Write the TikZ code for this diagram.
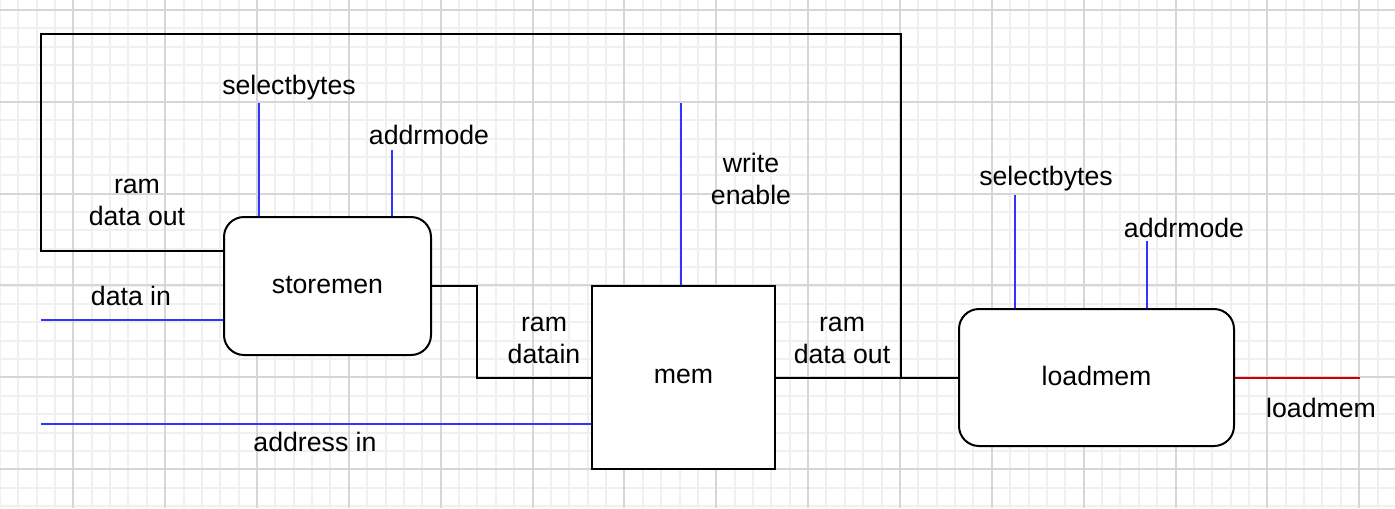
\documentclass[tikz,border=0pt]{standalone}
\usepackage{fontspec}
\setmainfont{Liberation Sans}
\definecolor{wireblue}{RGB}{51,51,255}
\definecolor{wirered}{RGB}{204,0,0}
\begin{document}
\begin{tikzpicture}[x=0.75pt,y=-0.75pt,
  minorgrid/.style={draw=black!6,line width=1.5pt},
  majorgrid/.style={draw=black!16,line width=1.5pt},
  wire/.style={draw=black,line width=1.5pt},
  bwire/.style={draw=wireblue,line width=1.5pt},
  rwire/.style={draw=wirered,line width=1.5pt},
  blockr/.style={draw=black,line width=1.5pt,fill=white,rounded corners=15pt,font=\fontsize{20}{24}\selectfont},
  blocks/.style={draw=black,line width=1.5pt,fill=white,font=\fontsize{20}{24}\selectfont},
  lbl/.style={font=\fontsize{20}{24}\selectfont,align=center,inner sep=0pt}]
\useasboundingbox (0,0) rectangle (1395,508);
\fill[white] (0,0) rectangle (1395,508);
% grid
\foreach \i in {-4,...,72} {\draw[minorgrid] ({73.3+\i*18.37},0) -- ({73.3+\i*18.37},508);}
\foreach \i in {-1,...,27} {\draw[minorgrid] (0,{10+\i*18.37}) -- (1395,{10+\i*18.37});}
\foreach \i in {-1,...,14} {\draw[majorgrid] ({73.3+\i*91.85},0) -- ({73.3+\i*91.85},508);}
\foreach \i in {0,...,5} {\draw[majorgrid] (0,{10+\i*91.75}) -- (1395,{10+\i*91.75});}
% blocks
\node[blockr,minimum width=155.25pt,minimum height=103.5pt] (storemen) at (327.5,286) {\raisebox{1.5pt}{storemen}};
\node[blocks,minimum width=137.25pt,minimum height=137.25pt] (mem) at (683.5,377.5) {\raisebox{1.5pt}{mem}};
\node[blockr,minimum width=206.25pt,minimum height=102.75pt] (loadmem) at (1096.5,377.5) {\raisebox{2.5pt}{loadmem}};
% coordinates
\coordinate (loopL) at (41,34);
\coordinate (loopR) at (901,34);
\coordinate (junc) at (901,377.5);
\coordinate (bendA) at (477,286);
\coordinate (datain) at (41,320);
\coordinate (addrin) at (41,424);
\coordinate (sb1) at (259,103);
\coordinate (am1) at (392,150);
\coordinate (we) at (681,103);
\coordinate (sb2) at (1015,195);
\coordinate (am2) at (1147,241);
\coordinate (outR) at (1360,377.5);
% wires
\draw[wire] ([yshift=26.25pt]storemen.west) -| (loopL) -- (loopR) -- (junc);
\draw[wire] (storemen.east) -- (bendA) |- (mem.west);
\draw[wire] (mem.east) -- (loadmem.west);
\draw[bwire] (datain) -- (datain -| storemen.west);
\draw[bwire] (addrin) -- (addrin -| mem.west);
\draw[bwire] (sb1) -- (sb1 |- storemen.north);
\draw[bwire] (am1) -- (am1 |- storemen.north);
\draw[bwire] (we) -- (we |- mem.north);
\draw[bwire] (sb2) -- (sb2 |- loadmem.north);
\draw[bwire] (am2) -- (am2 |- loadmem.north);
\draw[rwire] (loadmem.east |- outR) -- (outR);
% labels
\node[lbl] (tsb1) at (289,88) {selectbytes};
\node[lbl] (tam1) at (429,135) {addrmode};
\node[lbl] (trdo1) at (137,202.5) {ram\\data out};
\node[lbl] (tdin) at (131,296) {data in};
\node[lbl] (trdi) at (544,340) {ram\\datain};
\node[lbl] (taddr) at (315,442) {address in};
\node[lbl] (twe) at (751,179) {write\\enable};
\node[lbl] (trdo2) at (842,340) {ram\\data out};
\node[lbl] (tsb2) at (1046,179) {selectbytes};
\node[lbl] (tam2) at (1184,228) {addrmode};
\node[lbl] (tout) at (1321,408) {loadmem};
\end{tikzpicture}
\end{document}
